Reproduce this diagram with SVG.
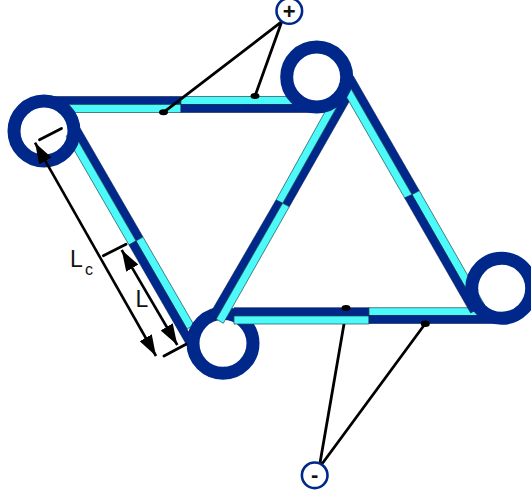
<svg xmlns="http://www.w3.org/2000/svg" width="531" height="492" viewBox="0 0 531 492">
<defs>
<marker id="head" viewBox="0 0 21 14" refX="21" refY="7" markerUnits="userSpaceOnUse" markerWidth="21" markerHeight="14" orient="auto-start-reverse"><path d="M0 0L21 7L0 14Z" fill="#000"/></marker>
</defs>
<style>
.n{fill:#00288a;stroke:#0a1f55;stroke-width:.6}
.c{fill:#4dfafa;stroke:#1c4a50;stroke-width:.7}
.ring{fill:none;stroke:#00288a;stroke-width:13}
.term{fill:#fff;stroke:#00288a;stroke-width:2.600}
.w{fill:none;stroke:#000;stroke-width:2.800;stroke-linecap:round}
.a{fill:none;stroke:#000;stroke-width:2.600;marker-start:url(#head);marker-end:url(#head)}
.d{fill:#000}
text{font-family:"Liberation Sans",Arial,sans-serif;fill:#111}
</style>
<g id="wires-under">
<path class="w" d="M344 324L320 463M425 324L322.700 463"/>
</g>
<g id="beams-under">
<path class="n" d="M44 96.500H181V104.500H44Z"/>
<path class="c" d="M60 104.500H181V112.500H60Z"/>
<path class="c" d="M181 96.500H300V104.500H181Z"/>
<path class="n" d="M181 104.500H320V112.500H181Z"/>
<path class="n" d="M80 128L143 237L136 241L73 132Z"/>
<path class="c" d="M66 136L73 132L136 241L129 245Z"/>
<path class="c" d="M143 237L194 325L187 329L136 241Z"/>
<path class="n" d="M136 241L191 336L189 349L129 245Z"/>
<path class="n" d="M289.300 206.700L350 100L343 96L282.600 203.300Z"/>
<path class="c" d="M276 200L282.600 203.300L343 96L336 92Z"/>
<path class="n" d="M353.300 76L419.300 190.700L412 194.700L346 80Z"/>
<path class="c" d="M346 80L412 194.700L404.700 198L339 84Z"/>
</g>
<g id="node-left"><circle class="ring" cx="44" cy="131" r="30"/><path class="w" d="M39.500 139.800L61.500 128.500"/></g>
<g id="node-top"><circle class="ring" cx="316.700" cy="77" r="30"/></g>
<g id="node-bottom"><circle class="ring" cx="223" cy="343.300" r="30"/></g>
<g id="beams-over">
<path class="n" d="M282.600 203.300L276 200L209.300 315L216.300 319Z"/>
<path class="c" d="M289.300 206.700L282.600 203.300L216.300 319L223.300 323.300Z"/>
<path class="n" d="M234 307.700H369V316H234Z"/>
<path class="c" d="M234 316H369V324H234Z"/>
<path class="c" d="M369 307.700H478V315.500H369Z"/>
<path class="n" d="M369 315.500H502V323.500H369Z"/>
<path class="c" d="M419.300 190.700L484.700 305L477.700 309L412 194.700Z"/>
<path class="n" d="M412 194.700L477.700 309L470.700 313L404.700 198Z"/>
</g>
<g id="node-right"><circle class="ring" cx="501.700" cy="288.300" r="30"/></g>
<g id="connectors">
<path class="w" d="M163.500 112.300L281.700 21.700M255 96L281.700 21.700"/>
<ellipse class="d" cx="163.500" cy="112.300" rx="4.500" ry="3"/>
<ellipse class="d" cx="255" cy="96" rx="4.500" ry="3"/>
<ellipse class="d" cx="346" cy="308" rx="4.500" ry="3"/>
<ellipse class="d" cx="425.300" cy="323.700" rx="4.500" ry="3.200"/>
<path class="a" d="M35 142.700L156 356"/>
<path class="a" d="M121.700 250L177.300 345"/>
<path class="w" d="M103.300 255.700L126 244.300M164 356L186 344.300"/>
</g>
<g id="terminal-plus"><circle class="term" cx="289.300" cy="11" r="12.800"/><text x="289.300" y="18.500" font-size="22" font-weight="700" text-anchor="middle">+</text></g>
<g id="terminal-minus"><circle class="term" cx="314.700" cy="475.300" r="12.800"/><text x="314.700" y="482" font-size="22" font-weight="700" text-anchor="middle">-</text></g>
<g id="labels">
<text x="70" y="267" font-size="23">L</text>
<text x="85" y="275" font-size="16">c</text>
<text x="135.500" y="307" font-size="23">L</text>
</g>
</svg>
